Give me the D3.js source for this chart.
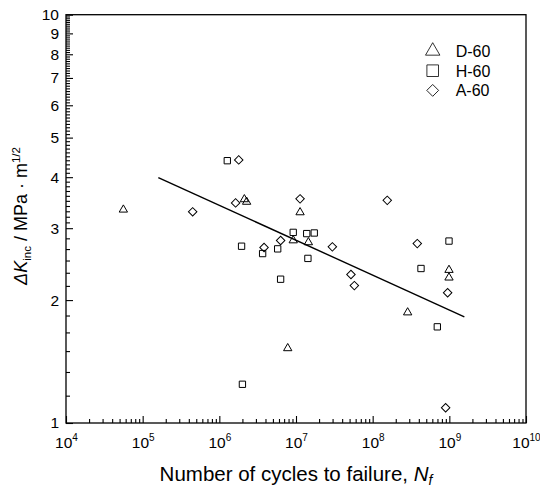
<!DOCTYPE html>
<html>
<head>
<meta charset="utf-8">
<script src="https://cdn.jsdelivr.net/npm/d3@7"></script>
<style>
  body { margin: 0; background: #fff; }
  text { font-family: "Liberation Sans", Arial, sans-serif; fill: #000; }
</style>
</head>
<body>
<div id="chart"></div>
<script>
// D-60 (triangles)
var dN = [5.6e4, 2.12e6, 2.27e6, 1.13e7, 9.2e6, 1.45e7, 2.86e8, 9.9e8, 9.9e8, 7.8e6];
var dK = [3.33, 3.53, 3.48, 3.28, 2.80, 2.77, 1.865, 2.37, 2.27, 1.524];
// H-60 (squares)
var hN = [1.27e6, 1.95e6, 3.67e6, 5.77e6, 9.2e6, 1.38e7, 1.73e7, 1.43e7, 6.3e6, 9.9e8, 4.27e8, 6.97e8, 2.0e6];
var hK = [4.39, 2.71, 2.60, 2.67, 2.93, 2.91, 2.92, 2.53, 2.25, 2.79, 2.39, 1.72, 1.244];
// A-60 (diamonds)
var aN = [1.79e6, 4.49e5, 1.63e6, 3.83e6, 6.3e6, 1.13e7, 2.98e7, 5.21e7, 5.77e7, 1.55e8, 3.82e8, 9.5e8, 8.95e8];
var aK = [4.41, 3.29, 3.46, 2.69, 2.80, 3.54, 2.70, 2.31, 2.17, 3.51, 2.75, 2.085, 1.09];
// fitted line end points
var fitN = [1.6e5, 1.57e9];
var fitK = [3.99, 1.82];

var seriesNames = ['D-60', 'H-60', 'A-60'];
var xMajor = [1e4, 1e5, 1e6, 1e7, 1e8, 1e9, 1e10];
var yMajor = [1, 2, 3, 4, 5, 6, 7, 8, 9, 10];

var width = 540, height = 490;
var plotL = 66, plotR = 526, plotT = 14.7, plotB = 423;

var svg = d3.select('#chart').append('svg')
  .attr('width', width)
  .attr('height', height);

var x = d3.scaleLog().domain([1e4, 1e10]).range([plotL, plotR]);
var y = d3.scaleLog().domain([1, 10]).range([plotB, plotT]);

// minor ticks
var xMinor = [];
for (var e = 4; e < 10; e++) {
  for (var m = 2; m < 10; m++) xMinor.push(m * Math.pow(10, e));
}
var yMinor = [];
for (var v = 1; v < 10; v++) {
  var n = v < 3 ? 6 : 10;
  for (var k = 1; k < n; k++) yMinor.push(v + k / n);
}

// x axis
svg.append('g')
  .attr('transform', 'translate(0,' + plotB + ')')
  .call(d3.axisBottom(x).tickValues(xMinor).tickSize(-4).tickSizeOuter(0).tickFormat(''));
var xAxis = svg.append('g')
  .attr('transform', 'translate(0,' + plotB + ')')
  .call(d3.axisBottom(x).tickValues(xMajor).tickSize(-7).tickSizeOuter(0).tickPadding(15).tickFormat(''));

xAxis.selectAll('.tick text').each(function(d) {
  var t = d3.select(this)
    .attr('font-size', 15.5)
    .attr('text-anchor', 'middle')
    .attr('y', 25)
    .attr('dy', null);
  t.append('tspan').text('10');
  t.append('tspan').attr('font-size', 10).attr('dy', -7).text(Math.round(Math.log10(d)));
});

// y axis
svg.append('g')
  .attr('transform', 'translate(' + plotL + ',0)')
  .call(d3.axisLeft(y).tickValues(yMinor).tickSize(-4).tickSizeOuter(0).tickFormat(''));
var yAxis = svg.append('g')
  .attr('transform', 'translate(' + plotL + ',0)')
  .call(d3.axisLeft(y).tickValues(yMajor).tickSize(-7).tickSizeOuter(0).tickPadding(7).tickFormat(d3.format('d')));
yAxis.selectAll('.tick text').attr('font-size', 15.5).attr('font-family', '"Liberation Sans", Arial, sans-serif');

svg.selectAll('.domain').remove();
svg.selectAll('.tick line').attr('stroke', '#000').attr('stroke-width', 1.1);

// frame
svg.append('rect')
  .attr('x', plotL).attr('y', plotT)
  .attr('width', plotR - plotL).attr('height', plotB - plotT)
  .attr('fill', 'none').attr('stroke', '#000').attr('stroke-width', 1.3);

// fitted line
var line = d3.line().x(function(d) { return x(d[0]); }).y(function(d) { return y(d[1]); });
svg.append('path')
  .datum(d3.zip(fitN, fitK))
  .attr('d', line)
  .attr('fill', 'none').attr('stroke', '#000').attr('stroke-width', 1.4);

// markers
function marker(type, size) {
  if (type === 0) return d3.symbol().type(d3.symbolTriangle).size(size)();
  return d3.symbol().type(d3.symbolSquare).size(size)();
}
var sets = [
  { n: dN, k: dK, type: 0, size: 30, rot: 0, lsize: 90 },
  { n: hN, k: hK, type: 1, size: 40, rot: 0, lsize: 135 },
  { n: aN, k: aK, type: 1, size: 36, rot: 45, lsize: 70 }
];

sets.forEach(function(s, i) {
  svg.append('g').selectAll('path')
    .data(d3.zip(s.n, s.k))
    .join('path')
    .attr('d', marker(s.type, s.size))
    .attr('transform', function(d) { return 'translate(' + x(d[0]) + ',' + y(d[1]) + ') rotate(' + s.rot + ')'; })
    .attr('fill', 'none').attr('stroke', '#000').attr('stroke-width', 1);

  // legend
  var ly = 51 + i * 19.7;
  svg.append('path')
    .attr('d', marker(s.type, s.lsize))
    .attr('transform', 'translate(432.7,' + ly + ') rotate(' + s.rot + ')')
    .attr('fill', 'none').attr('stroke', '#000').attr('stroke-width', 0.8);
  svg.append('text')
    .attr('x', 455.7).attr('y', ly + 6)
    .attr('font-size', 16)
    .text(seriesNames[i]);
});

// x title
var xt = svg.append('text')
  .attr('x', (plotL + plotR) / 2).attr('y', 481)
  .attr('text-anchor', 'middle')
  .attr('font-size', 20.5);
xt.append('tspan').text('Number of cycles to failure, ');
xt.append('tspan').attr('font-style', 'italic').text('N');
xt.append('tspan').attr('font-style', 'italic').attr('font-size', 14).attr('dy', 4).text('f');

// y title
var yt = svg.append('text')
  .attr('transform', 'translate(27,216) rotate(-90)')
  .attr('text-anchor', 'middle')
  .attr('font-size', 18);
yt.append('tspan').attr('font-style', 'italic').text('\u0394K');
yt.append('tspan').attr('font-size', 11.5).attr('dy', 4).text('inc');
yt.append('tspan').attr('dy', -4).text(' / MPa \u00b7 m');
yt.append('tspan').attr('font-size', 11.5).attr('dy', -7).text('1/2');
</script>
</body>
</html>
